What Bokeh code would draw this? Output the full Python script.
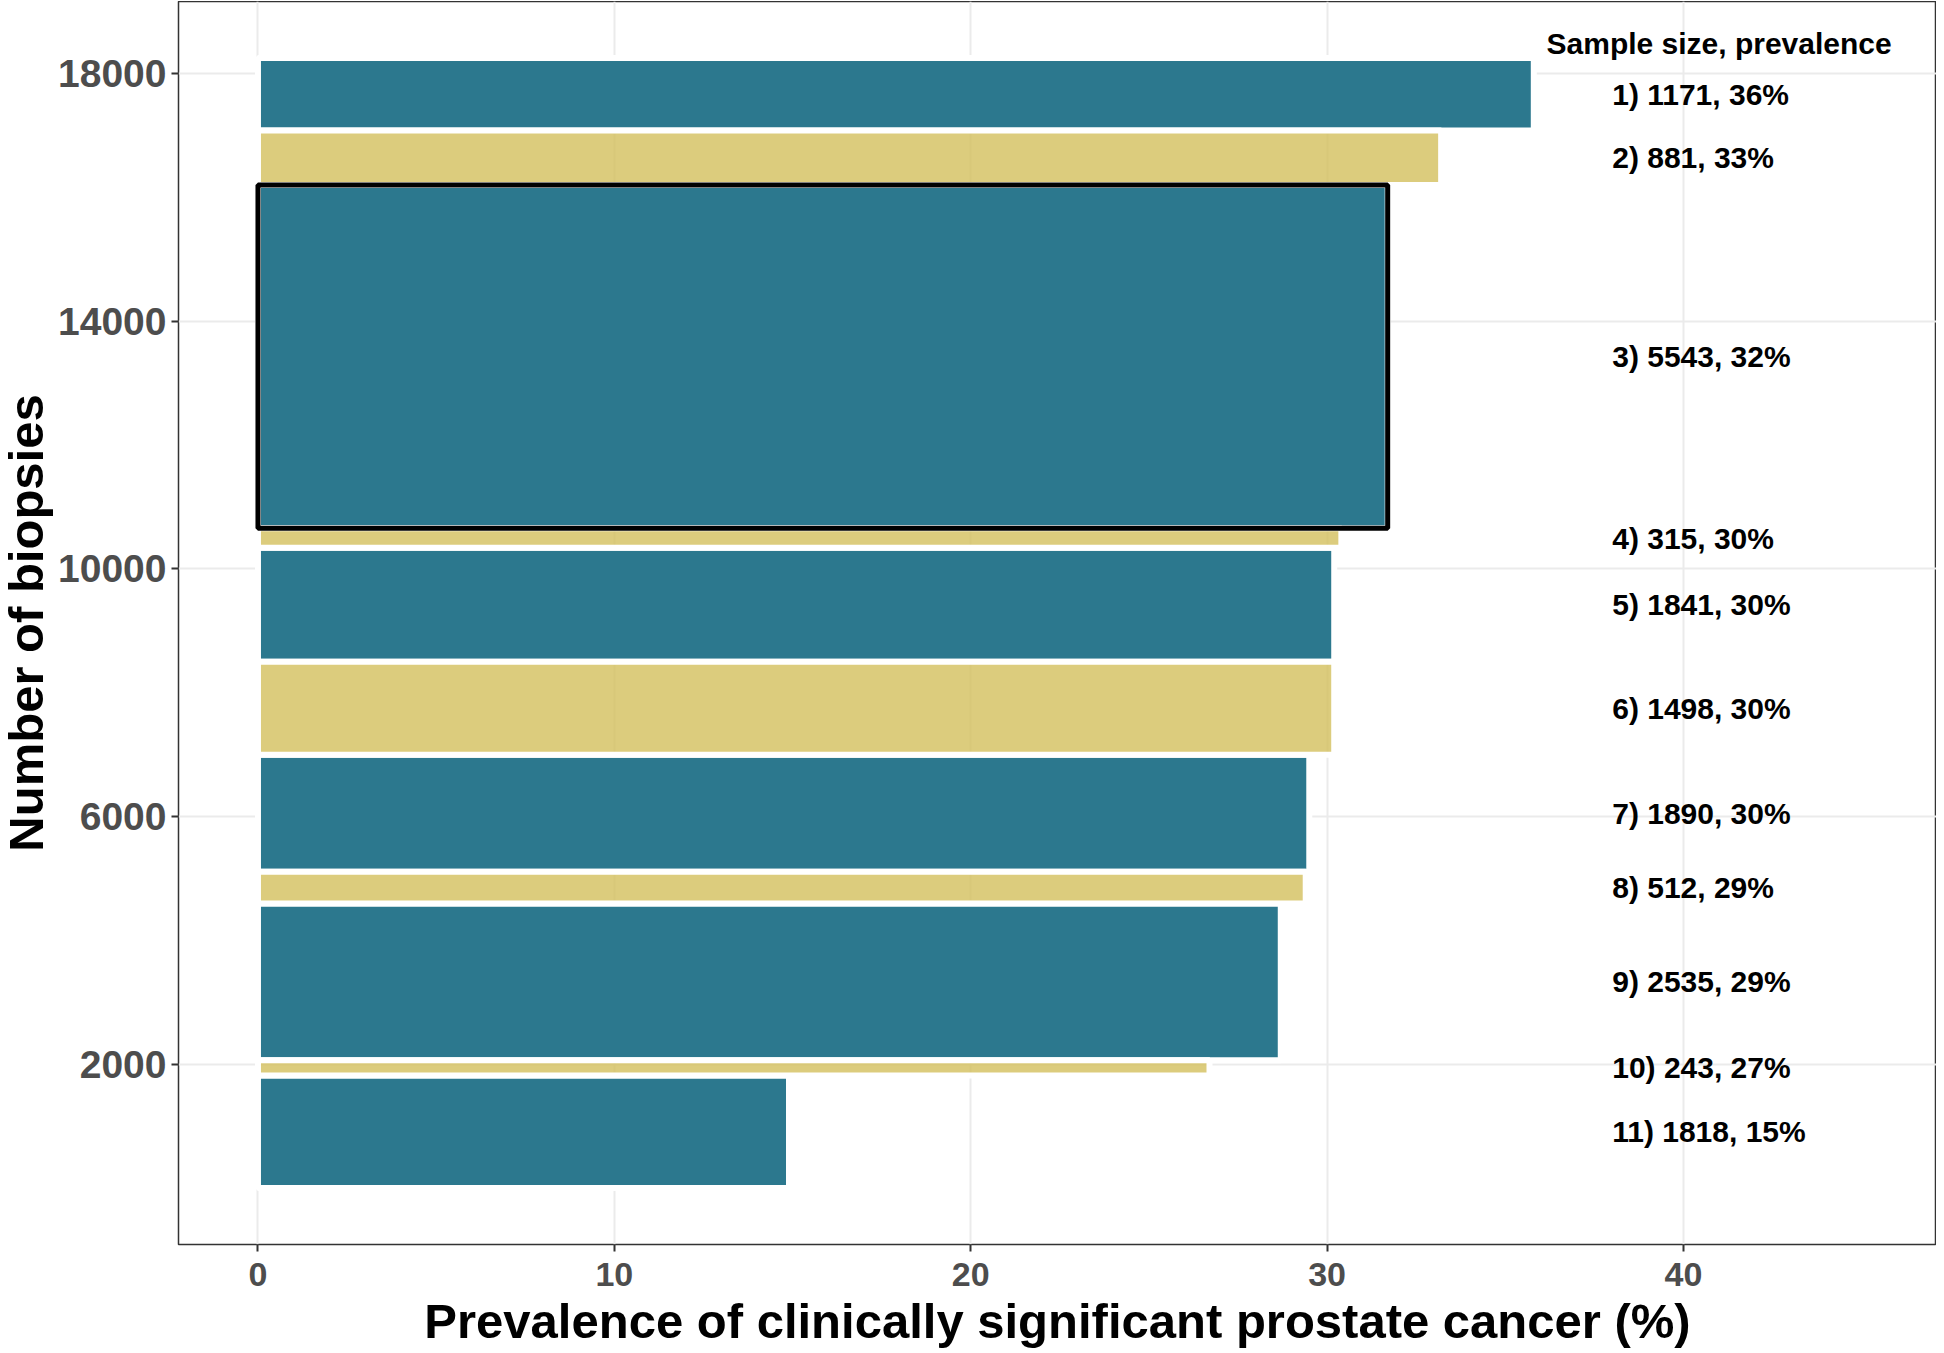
from bokeh.plotting import figure
from bokeh.models import ColumnDataSource, Range1d, FixedTicker
from bokeh.core.properties import value
from bokeh.embed import file_html
from bokeh.resources import INLINE

# ---- data (top bar first) ----
study_ids = ["1", "2", "3", "4", "5", "6", "7", "8", "9", "10", "11"]
sample_size = [1171, 881, 5543, 315, 1841, 1498, 1890, 512, 2535, 243, 1818]
prevalence = [35.8, 33.2, 31.7, 30.4, 30.2, 30.2, 29.5, 29.4, 28.7, 26.7, 14.9]
prevalence_label = [36, 33, 32, 30, 30, 30, 30, 29, 29, 27, 15]
bar_group = ["a", "b", "a", "b", "a", "b", "a", "b", "a", "b", "a"]
highlight_study = "3"

x_ticks = [0, 10, 20, 30, 40]
y_ticks = [2000, 6000, 10000, 14000, 18000]

TEAL = "#2C788E"
SAND = "#D3BF5D"

# cumulative stacking from the bottom (study 11) upward
n = len(sample_size)
bottom = [0] * n
top = [0] * n
acc = 0
for i in range(n - 1, -1, -1):
    bottom[i] = acc
    acc += sample_size[i]
    top[i] = acc
total = acc
mid = [(b + t) / 2 for b, t in zip(bottom, top)]
labels = [f"{s}) {ss}, {pl}%" for s, ss, pl in zip(study_ids, sample_size, prevalence_label)]

def subset(group):
    idx = [i for i in range(n) if bar_group[i] == group]
    return ColumnDataSource(dict(
        left=[0] * len(idx),
        right=[prevalence[i] for i in idx],
        bottom=[bottom[i] for i in idx],
        top=[top[i] for i in idx],
    ))

y_pad = 0.05 * total
p = figure(
    width=1940, height=1350,
    x_range=Range1d(-2.23, 47.1),
    y_range=Range1d(-y_pad, total + y_pad),
    output_backend="svg", toolbar_location=None,
    min_border_left=181, min_border_right=0, min_border_top=0, min_border_bottom=107,
)
p.styles = {"margin-top": "1px", "margin-left": "-4px", "margin-bottom": "-30px"}
p.background_fill_color = "white"
p.border_fill_color = "white"
p.outline_line_color = "#333333"
p.outline_line_width = 1.5

# grid
p.xgrid.ticker = FixedTicker(ticks=x_ticks)
p.ygrid.ticker = FixedTicker(ticks=y_ticks)
for g in (p.xgrid, p.ygrid):
    g.grid_line_color = "#EBEBEB"
    g.grid_line_width = 2
    g.minor_grid_line_color = None

# bars
p.quad(left="left", right="right", bottom="bottom", top="top", source=subset("a"),
       fill_color=TEAL, fill_alpha=1.0, line_color="white", line_width=6)
p.quad(left="left", right="right", bottom="bottom", top="top", source=subset("b"),
       fill_color=SAND, fill_alpha=0.8, line_color="white", line_width=6)

# highlight box around the selected study
hi = study_ids.index(highlight_study)
p.quad(left=[0], right=[prevalence[hi]], bottom=[bottom[hi]], top=[top[hi]],
       fill_color=None, line_color="black", line_width=5)

# labels
label_x = 38.0
p.text(x=[label_x] * n, y=mid, text=labels,
       text_font=value("Liberation Sans"), text_font_style="bold",
       text_font_size="30px", text_color="black",
       text_baseline="middle", text_align="left")
p.text(x=[41.0], y=[total + 230], text=["Sample size, prevalence"],
       text_font=value("Liberation Sans"), text_font_style="bold",
       text_font_size="30px", text_color="black",
       text_baseline="middle", text_align="center")

# axes
p.xaxis.ticker = FixedTicker(ticks=x_ticks)
p.yaxis.ticker = FixedTicker(ticks=y_ticks)
p.xaxis.axis_label = "Prevalence of clinically significant prostate cancer (%)"
p.yaxis.axis_label = "Number of biopsies"
for ax in (p.xaxis, p.yaxis):
    ax.axis_line_color = None
    ax.major_tick_line_color = "#333333"
    ax.major_tick_line_width = 2
    ax.major_tick_out = 7
    ax.major_tick_in = 0
    ax.minor_tick_line_color = None
    ax.major_label_text_font = "Liberation Sans"
    ax.major_label_text_font_style = "bold"
    ax.major_label_text_color = "#4D4D4D"
    ax.axis_label_text_font = "Liberation Sans"
    ax.axis_label_text_font_style = "bold"
    ax.axis_label_text_color = "black"
    ax.axis_label_text_font_size = "49px"
    ax.axis_label_text_line_height = 0.9
    ax.major_label_text_line_height = 0.9
p.xaxis.major_label_text_font_size = "34px"
p.yaxis.major_label_text_font_size = "39px"
p.xaxis.major_label_standoff = 11
p.yaxis.major_label_standoff = 5
p.xaxis.axis_label_standoff = 5
p.yaxis.axis_label_standoff = 2

open("out.html", "w").write(file_html(p, INLINE))
